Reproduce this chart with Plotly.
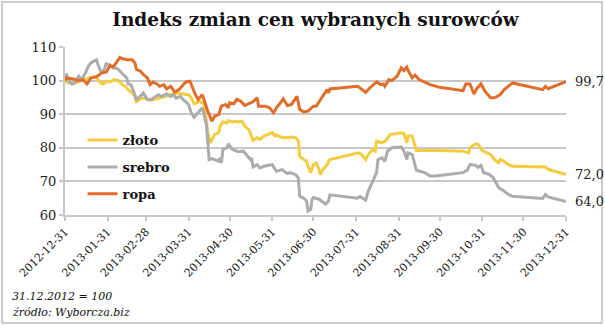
import pandas as pd
import plotly.graph_objects as go

BASE = "2012-12-31"  # 31.12.2012 = 100

# days since 2012-12-31 and index values
zloto_day = [0, 2, 6, 10, 13, 17, 21, 23, 26, 28, 30, 33, 36, 39, 41, 44, 46, 49, 51, 52, 55, 58, 62, 67, 72, 77, 81, 86,
             90, 92, 94, 96, 98, 101, 102, 103, 104, 106, 108, 109, 112, 113, 115, 118, 119, 122, 124, 126, 129, 131, 134,
             136, 137, 140, 142, 145, 148, 151, 153, 154, 157, 160, 165, 168, 170, 171, 174, 176, 177, 179,
             181, 183, 185, 186, 188, 191, 192, 193, 214, 216, 219, 221, 224, 226, 227, 230, 233, 235, 237, 241, 244,
             247, 248, 249, 250, 253, 254, 256, 273, 290, 294, 295, 299, 301, 304, 307, 310, 313, 316, 317, 320, 322,
             326, 350, 352, 365]
zloto_val = [100.0, 99.3, 99.0, 99.8, 100.3, 100.8, 101.0, 100.8, 99.3, 99.0, 99.8, 99.6, 100.3, 100.0, 99.0, 98.3, 97.3,
             96.3, 95.3, 93.7, 94.6, 94.8, 94.1, 94.6, 95.3, 95.8, 96.3, 96.0,
             95.8, 94.9, 93.1, 93.4, 93.9, 93.1, 91.4, 88.0, 84.5, 81.5, 83.0, 84.0, 84.5, 86.4, 87.7, 87.4, 88.1, 87.7,
             87.9, 87.7, 87.9, 86.4, 85.4, 83.5, 82.2, 83.0, 82.5, 83.5, 84.0, 84.5, 83.5, 83.8, 83.2, 83.0, 83.2, 83.0,
             82.0, 77.5, 76.5, 76.0, 74.6, 72.6,
             75.0, 75.5, 73.6, 72.0, 73.6, 75.0, 76.0, 76.5, 78.5, 78.0, 76.5, 78.0, 79.5, 79.0, 82.0, 81.5, 81.8, 83.0,
             84.0, 84.2, 84.5, 84.2, 82.5, 81.5, 83.5, 83.5, 82.0, 79.2, 79.2, 79.0, 78.5, 80.0, 81.2, 81.0, 79.2, 78.5,
             78.0, 76.5, 75.5, 76.5, 76.0, 75.2, 74.5, 74.3, 73.6, 72.0]

srebro_day = [0, 1, 3, 5, 7, 10, 12, 15, 17, 19, 22, 23, 24, 26, 28, 30, 33, 35, 38, 40, 42, 45, 46, 48, 50, 52, 56, 57,
              60, 63, 66, 68, 70, 74, 77, 79, 81, 84, 86,
              90, 92, 94, 96, 97, 100, 101, 103, 104, 105, 107, 109, 112, 113, 114, 115, 118, 119, 122, 124, 126, 130,
              132, 135, 136, 137, 140, 142, 145, 148, 151, 154, 158, 162, 164, 168, 170, 171, 174, 176, 177, 179, 180,
              181, 185, 190, 192, 193, 213, 215, 219, 221, 225, 227, 228, 231, 233, 235, 238, 245, 247, 249, 250, 253,
              256, 262, 266, 270, 290, 293, 295, 299, 301, 303, 305, 309, 312, 316, 320, 323, 326, 348, 350, 352, 365]
srebro_val = [100.0, 102.0, 99.8, 99.0, 99.3, 101.3, 100.3, 102.3, 104.3, 105.3, 106.0, 106.2, 104.8, 102.8, 102.8,
              105.0, 104.3, 103.8, 103.6, 102.8, 101.8, 100.8, 99.0, 98.8, 96.8, 94.4, 95.8, 96.3,
              94.4, 94.4, 95.3, 95.8, 95.3, 96.0, 95.3, 95.8, 94.8, 95.3, 94.4,
              92.9, 90.4, 89.1, 90.0, 90.4, 91.9, 90.4, 86.9, 82.0, 76.5, 76.8, 76.5, 76.0, 77.0, 75.5, 79.5, 80.0,
              81.2, 79.5, 79.2, 78.8, 79.0, 78.0, 76.5, 77.0, 74.3, 75.0, 74.0, 74.5, 74.8, 75.0, 73.0, 73.5, 72.3,
              72.6, 72.0, 71.0, 65.6, 65.0, 64.2, 61.2, 61.7, 64.7,
              65.2, 64.7, 63.2, 64.2, 66.0, 65.0, 65.5, 64.4, 67.1, 70.6, 72.6, 76.5, 77.0, 76.0, 79.0, 80.0, 80.2,
              79.0, 76.5, 78.5, 78.0, 73.3, 72.6, 71.6, 71.6, 72.6, 73.3, 75.0, 74.8, 74.2, 74.8, 72.6, 72.1, 71.1,
              68.1, 67.1, 66.1, 65.6, 64.9, 66.1, 65.4, 64.0]

ropa_day = [0, 1, 6, 10, 13, 16, 19, 23, 27, 30, 33, 35, 38, 40, 42, 45, 49, 51, 52, 55, 57, 60, 62, 64, 67, 69, 72, 74,
            77, 80, 83, 85, 88, 91, 92, 95, 97, 100, 102, 104, 107, 109, 112, 114, 117, 119, 120, 123, 125, 128, 131,
            135, 137, 140, 141, 146, 149, 152, 154, 157, 159, 162, 165, 169, 171, 174, 177, 181, 183, 187, 191, 192,
            193, 213, 215, 219, 222, 227, 230, 232, 233, 236, 238, 242, 245, 247, 249, 250, 253, 255, 258, 266, 273,
            290, 292, 295, 298, 300, 303, 306, 310, 313, 317, 320, 326, 348, 350, 352, 365]
ropa_val = [100.0, 100.8, 100.5, 100.0, 100.3, 99.0, 100.8, 101.2, 102.3, 102.5, 104.6, 104.0, 105.7, 106.9, 106.5,
            106.2, 106.2, 105.2, 103.3, 102.8, 101.8, 100.8, 98.8, 99.6, 99.0, 98.3, 98.8, 97.5,
            98.3, 96.6, 97.3, 98.3, 99.6, 99.8, 98.8, 95.8, 94.4, 95.8, 93.4, 90.9, 87.9, 89.4, 89.9, 92.4, 92.9, 91.9,
            93.4, 93.1, 94.4, 93.9, 92.6, 93.4, 93.7, 94.9, 92.4, 92.4, 91.9, 90.4, 91.9, 93.4, 94.6, 92.6, 92.9, 95.3,
            91.4, 90.7, 90.9, 92.4, 92.4, 94.9, 97.3, 96.3, 97.5, 98.3, 97.8, 96.5, 97.8, 99.6, 98.8, 99.0, 98.3,
            100.3, 100.0, 101.3, 103.8, 103.0, 104.0, 103.0, 100.8, 101.6, 100.3, 98.8, 98.0,
            97.0, 99.0, 99.0, 96.0, 97.6, 99.0, 96.8, 94.9, 94.9, 95.8, 97.3, 99.3, 97.3, 98.3, 97.6, 99.7]

tick_dates = ["2012-12-31", "2013-01-31", "2013-02-28", "2013-03-31", "2013-04-30", "2013-05-31", "2013-06-30",
              "2013-07-31", "2013-08-31", "2013-09-30", "2013-10-31", "2013-11-30", "2013-12-31"]

series = [
    ("złoto", zloto_day, zloto_val, "rgb(243,205,64)"),
    ("srebro", srebro_day, srebro_val, "rgb(172,172,172)"),
    ("ropa", ropa_day, ropa_val, "rgb(222,110,42)"),
]

base = pd.Timestamp(BASE)
SERIF = "DejaVu Serif"
fig = go.Figure()
for i, (name, days, vals, color) in enumerate(series):
    dates = [base + pd.Timedelta(days=d) for d in days]
    fig.add_trace(go.Scatter(x=dates, y=vals, name=name, mode="lines", legendgroup=name,
                             line=dict(color=color, width=3), hoverinfo="skip"))
    fig.add_annotation(x=dates[-1], y=vals[-1], text=f"{vals[-1]:.1f}".replace(".", ","),
                       xanchor="left", yanchor="middle", xshift=7, showarrow=False,
                       font=dict(family=SERIF, size=13, color="#222"))

grid = "rgb(200,200,200)"
fig.update_layout(
    width=605, height=326,
    margin=dict(l=65, r=39, t=47, b=111),
    paper_bgcolor="white", plot_bgcolor="white",
    title=dict(text="<b>Indeks zmian cen wybranych surowców</b>", x=0.5, xref="paper", xanchor="center",
               y=1 - 20 / 326, yanchor="middle", font=dict(family=SERIF, size=18.5, color="#111")),
    showlegend=True,
    legend=dict(x=0.035, y=0.535, xanchor="left", yanchor="top", bgcolor="rgba(0,0,0,0)",
                font=dict(family=SERIF, size=13, color="#111", weight="bold"), tracegroupgap=7),
    xaxis=dict(type="date", range=[tick_dates[0], tick_dates[-1]], tickvals=tick_dates, ticktext=tick_dates,
               tickangle=-45, showgrid=False, showline=True, linecolor=grid, linewidth=2,
               ticks="outside", ticklen=4, tickcolor=grid, tickwidth=1.5,
               tickfont=dict(family=SERIF, size=11, color="#111")),
    yaxis=dict(range=[60, 110], tickvals=[60, 70, 80, 90, 100, 110], showgrid=True, gridcolor=grid, gridwidth=2,
               showline=True, linecolor=grid, linewidth=2, zeroline=False, ticks="outside", ticklen=4,
               tickcolor=grid, tickwidth=1.5, tickfont=dict(family=SERIF, size=13, color="#222")),
)

fig.add_annotation(xref="paper", yref="paper", x=-0.11, y=-0.488, xanchor="left", yanchor="middle",
                   text="<i>31.12.2012 = 100</i>", showarrow=False,
                   font=dict(family=SERIF, size=11, color="#111"))
fig.add_annotation(xref="paper", yref="paper", x=-0.11, y=-0.583, xanchor="left", yanchor="middle",
                   text="<i>źródło: Wyborcza.biz</i>", showarrow=False,
                   font=dict(family=SERIF, size=11, color="#111"))
fig.add_shape(type="rect", xref="paper", yref="paper", x0=-0.1257, x1=1.0719, y0=-0.643, y1=1.268,
              line=dict(color="rgb(190,190,190)", width=1.5), layer="below")

fig.write_html("out.html")
